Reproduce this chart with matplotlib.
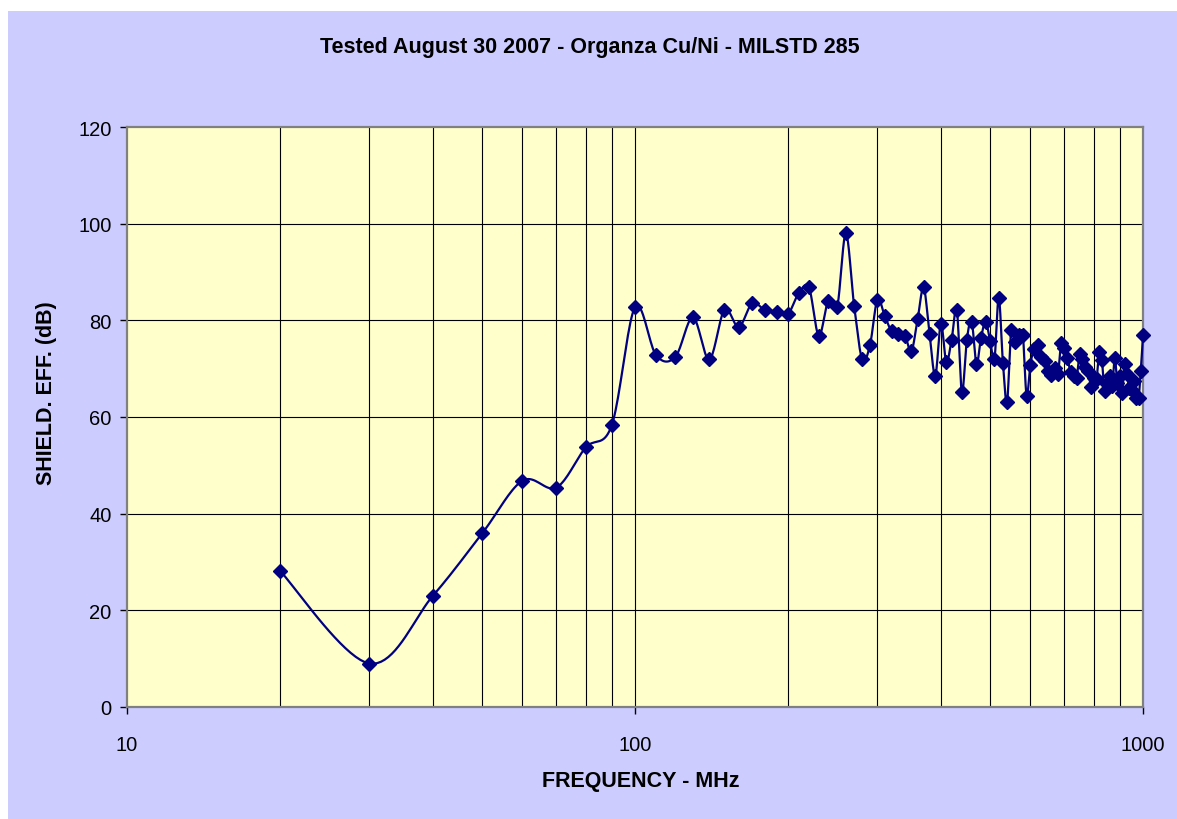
import numpy as np
import matplotlib
matplotlib.use("Agg")
import matplotlib.pyplot as plt
from matplotlib.patches import Rectangle
from matplotlib.ticker import FixedLocator, NullFormatter, FixedFormatter

plt.rcParams['font.family'] = ['Liberation Sans', 'DejaVu Sans']

title = "Tested August 30 2007 - Organza Cu/Ni - MILSTD 285"
xlabel = "FREQUENCY - MHz"
ylabel = "SHIELD. EFF. (dB)"

freq = [20, 30, 40, 50, 60, 70, 80, 90, 100, 110, 120, 130, 140, 150, 160, 170,
        180, 190, 200, 210, 220, 230, 240, 250, 260, 270, 280, 290, 300, 310, 320,
        330, 340, 350, 360, 370, 380, 390, 400, 410, 420, 430, 440, 450, 460, 470,
        480, 490, 500, 510, 520, 530, 540, 550, 560, 570, 580, 590, 600, 610, 620,
        630, 640, 650, 660, 670, 680, 690, 700, 710, 720, 730, 740, 750, 760, 770,
        780, 790, 800, 810, 820, 830, 840, 850, 860, 870, 880, 890, 900, 910, 920,
        930, 940, 950, 960, 970, 980, 990, 1000]

se_db = [28.2, 9.0, 23.0, 35.9, 46.8, 45.4, 53.7, 58.3, 82.7, 72.8, 72.4, 80.6,
         71.9, 82.2, 78.6, 83.5, 82.2, 81.8, 81.3, 85.6, 86.8, 76.8, 84.0, 82.7,
         98.0, 83.0, 71.9, 74.8, 84.3, 81.0, 77.7, 77.2, 76.8, 73.6, 80.2, 86.8,
         77.2, 68.5, 79.3, 71.4, 76.0, 82.2, 65.2, 76.0, 79.7, 71.0, 76.4, 79.7,
         75.8, 72.0, 84.7, 71.2, 63.1, 78.0, 75.5, 77.0, 77.0, 64.4, 70.8, 74.0,
         74.8, 72.5, 71.5, 69.5, 68.7, 70.2, 68.8, 75.3, 74.2, 72.3, 69.3, 68.5,
         68.0, 73.0, 72.0, 70.3, 69.5, 66.2, 68.0, 67.8, 73.5, 71.8, 65.3, 66.8,
         68.5, 66.5, 72.2, 67.0, 68.5, 65.0, 71.0, 69.0, 66.0, 65.5, 67.5, 64.0,
         64.0, 69.5, 76.9]

y_ticks = [0, 20, 40, 60, 80, 100, 120]
x_major = [10, 100, 1000]
x_major_labels = ["10", "100", "1000"]

W, H = 1177, 820
fig = plt.figure(figsize=(W / 100, H / 100), dpi=100)
fig.patch.set_facecolor("white")
bg = Rectangle((8 / W, 0), 1 - 8 / W, 1 - 12 / H, transform=fig.transFigure,
               facecolor="#CCCCFF", edgecolor="none", zorder=-10)
fig.add_artist(bg)

left, right, top, bottom = 127, 1143, 128, 708
ax = fig.add_axes([left / W, 1 - bottom / H, (right - left) / W, (bottom - top) / H])
ax.set_zorder(1)
ax.set_facecolor("#FFFFCC")
ax.set_xscale("log")
ax.set_xlim(10, 1000)
ax.set_ylim(0, 120)

# grid
minor_x = [v * d for d in (10, 100) for v in range(2, 10)]
for xv in minor_x + [100]:
    ax.axvline(xv, color="black", lw=0.8, zorder=1)
for yv in y_ticks[1:-1]:
    ax.axhline(yv, color="black", lw=0.8, zorder=1)

for s in ax.spines.values():
    s.set_color("#808080")
    s.set_linewidth(1.6)

ax.xaxis.set_major_locator(FixedLocator(x_major))
ax.xaxis.set_major_formatter(FixedFormatter(x_major_labels))
ax.xaxis.set_minor_locator(FixedLocator([]))
ax.xaxis.set_minor_formatter(NullFormatter())
ax.set_yticks(y_ticks)
ax.tick_params(axis="both", which="major", direction="out", length=5, width=1,
               color="black", labelsize=14.5)
ax.tick_params(axis="x", pad=15)
ax.tick_params(axis="y", pad=6)

# smoothed line (Excel-style Bezier through points, in display-proportional space)
u = np.log10(np.array(freq, float)) * (right - left) / 2.0
v = np.array(se_db, float) * (bottom - top) / 120.0
P = np.column_stack([u, v])
n = len(P)
curve = []
t = np.linspace(0, 1, 20)[:, None]
for i in range(n - 1):
    p0 = P[i - 1] if i > 0 else P[i]
    p1 = P[i]
    p2 = P[i + 1]
    p3 = P[i + 2] if i + 2 < n else P[i + 1]
    c1 = p1 + (p2 - p0) / 6.0
    c2 = p2 - (p3 - p1) / 6.0
    seg = ((1 - t) ** 3) * p1 + 3 * ((1 - t) ** 2) * t * c1 + 3 * (1 - t) * t ** 2 * c2 + t ** 3 * p2
    curve.append(seg if i == 0 else seg[1:])
curve = np.vstack(curve)
cx = 10 ** (curve[:, 0] / ((right - left) / 2.0))
cy = curve[:, 1] / ((bottom - top) / 120.0)
ax.plot(cx, cy, color="#000080", lw=1.6, zorder=3, clip_on=False)
ax.plot(freq, se_db, linestyle="none", marker="D", ms=7, color="#000080",
        markeredgecolor="#000080", zorder=4, clip_on=False)

fig.text(590 / W, 1 - 47 / H, title, ha="center", va="center",
         fontsize=15.5, fontweight="bold")
fig.text(641 / W, 1 - 782 / H, xlabel, ha="center", va="center",
         fontsize=15.5, fontweight="bold")
fig.text(47 / W, 1 - 393 / H, ylabel, ha="center", va="center", rotation=90,
         fontsize=15.5, fontweight="bold")

fig.savefig("out.png", dpi=100)
